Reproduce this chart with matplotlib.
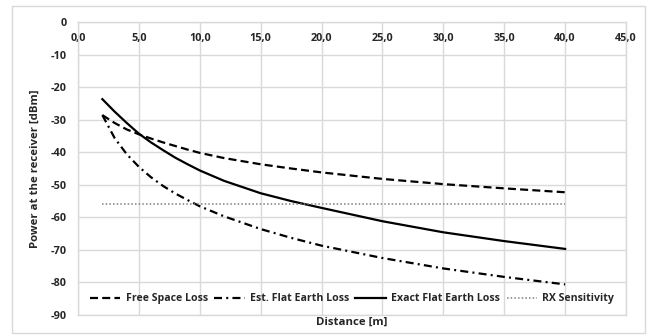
import matplotlib.pyplot as plt
from matplotlib.patches import Rectangle

# values
distance = [2, 3, 4, 5, 6, 7, 8, 9, 10, 12, 15, 17.5, 20, 25, 30, 35, 40]
free_space = [-28.6, -31.0, -33.0, -34.5, -35.8, -37.0, -38.1, -39.2, -40.2, -41.8,
              -43.7, -45.0, -46.2, -48.2, -49.8, -51.1, -52.3]
est_flat = [-28.6, -35.6, -40.6, -44.5, -47.7, -50.4, -52.7, -54.7, -56.6, -59.7,
            -63.6, -66.3, -68.7, -72.5, -75.7, -78.3, -80.6]
exact_flat = [-23.7, -27.5, -31.0, -34.3, -37.0, -39.4, -41.7, -43.7, -45.6, -48.8,
              -52.6, -55.0, -57.1, -61.2, -64.6, -67.3, -69.7]
rx_x = [2, 40]
rx_sens = [-56.0, -56.0]

x_ticks = [0, 5, 10, 15, 20, 25, 30, 35, 40, 45]
y_ticks = [0, -10, -20, -30, -40, -50, -60, -70, -80, -90]

plt.rcParams['font.family'] = ['Open Sans', 'DejaVu Sans']
txt = '#262626'
grid = '#d9d9d9'

fig = plt.figure(figsize=(6.52, 3.35), dpi=100)
ax = fig.add_axes([78 / 652, 1 - 315 / 335, 548 / 652, 293 / 335])

# chart border
fig.patches.append(Rectangle((12 / 652, 2 / 335), 633 / 652, 327 / 335,
                             transform=fig.transFigure, fill=False,
                             edgecolor=grid, linewidth=1))

ax.plot(distance, free_space, color='black', lw=1.6, linestyle=(0, (3.6, 1.9)),
        label='Free Space Loss')
ax.plot(distance, est_flat, color='black', lw=1.6, linestyle=(0, (3.6, 1.9, 0.9, 1.9)),
        label='Est. Flat Earth Loss')
ax.plot(distance, exact_flat, color='black', lw=1.6, linestyle='-',
        label='Exact Flat Earth Loss')
ax.plot(rx_x, rx_sens, color='#7f7f7f', lw=1.1, linestyle=(0, (1, 1.4)),
        label='RX Sensitivity')

ax.set_xlim(0, 45)
ax.set_ylim(-90, 0)
ax.set_xticks(x_ticks)
ax.set_xticklabels([('%.1f' % v).replace('.', ',') for v in x_ticks])
ax.set_yticks(y_ticks)
ax.set_yticklabels([str(v) for v in y_ticks])

ax.grid(True, color=grid, linewidth=1)
ax.set_axisbelow(True)
for s in ax.spines.values():
    s.set_color(grid)
    s.set_linewidth(1)

ax.tick_params(axis='x', which='both', top=False, bottom=False, labeltop=True,
               labelbottom=False, length=0, pad=-16, labelsize=7.8, labelcolor=txt)
ax.tick_params(axis='y', length=0, pad=8, labelsize=7.8, labelcolor=txt)
for lab in ax.get_xticklabels() + ax.get_yticklabels():
    lab.set_fontweight('bold')

ax.set_ylabel('Power at the receiver [dBm]', fontsize=8.2, fontweight='bold',
              color=txt, labelpad=7)
ax.set_xlabel('Distance [m]', fontsize=8.2, fontweight='bold', color=txt, labelpad=1)

leg = ax.legend(loc='center', bbox_to_anchor=(0.5, 0.055), ncol=4, frameon=False,
                fontsize=7.6, handlelength=2.9, handletextpad=0.5, columnspacing=0.6,
                borderaxespad=0)
for t in leg.get_texts():
    t.set_fontweight('bold')
    t.set_color(txt)

fig.savefig('out.png', dpi=100)
